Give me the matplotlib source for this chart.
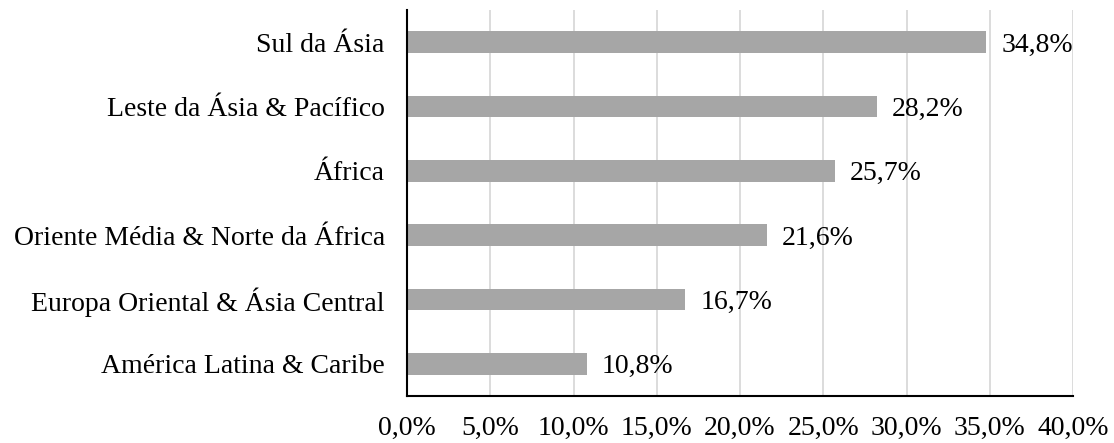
import matplotlib.pyplot as plt

regioes = ["América Latina & Caribe", "Europa Oriental & Ásia Central",
           "Oriente Média & Norte da África", "África",
           "Leste da Ásia & Pacífico", "Sul da Ásia"]
valores = [10.8, 16.7, 21.6, 25.7, 28.2, 34.8]
ticks = [0, 5, 10, 15, 20, 25, 30, 35, 40]

plt.rcParams['font.family'] = ['Liberation Serif', 'DejaVu Serif']

fig = plt.figure(figsize=(11.14, 4.43), dpi=100)
ax = fig.add_axes([407 / 1114, 47 / 443, 666 / 1114, 386 / 443])

y = range(len(regioes))
ax.barh(y, valores, height=0.34, color='#A6A6A6', zorder=2)
for i, v in zip(y, valores):
    ax.annotate(f'{v:.1f}%'.replace('.', ','), (v, i), xytext=(11, -2),
                textcoords='offset points', va='center', ha='left',
                fontsize=20, color='black')

ax.set_xlim(0, 40)
ax.set_ylim(-0.5, len(regioes) - 0.5)
ax.set_xticks(ticks)
ax.set_xticklabels([f'{t:.1f}%'.replace('.', ',') for t in ticks])
ax.set_yticks(list(y))
ax.set_yticklabels(regioes)
ax.tick_params(axis='both', length=0, labelsize=20)
ax.tick_params(axis='y', pad=16)
ax.tick_params(axis='x', pad=14)
ax.grid(axis='x', color='#D9D9D9', linewidth=1.3, zorder=0)

for s in ['top', 'right']:
    ax.spines[s].set_visible(False)
ax.spines['left'].set_linewidth(1.5)
ax.spines['bottom'].set_linewidth(1.5)

fig.savefig('out.png', dpi=100)
